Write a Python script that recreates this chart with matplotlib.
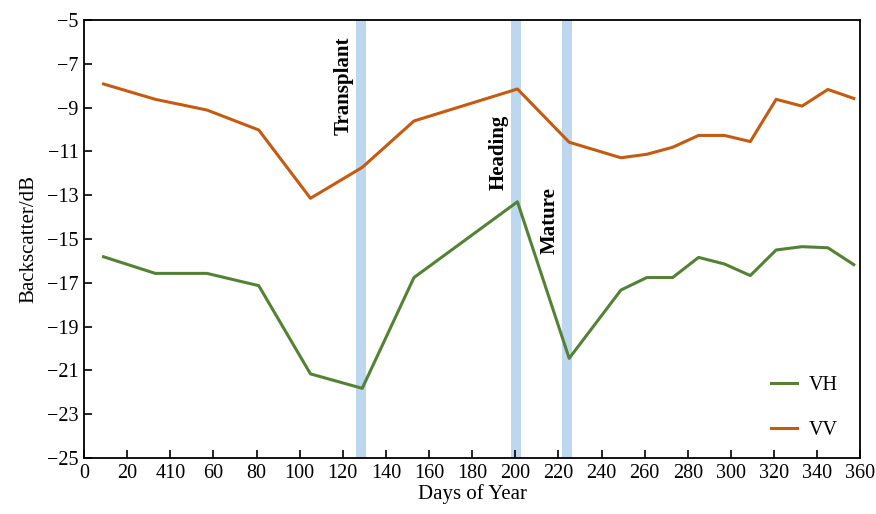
import matplotlib.pyplot as plt

plt.rcParams['font.family'] = ['Liberation Serif', 'DejaVu Serif']

days = [9, 33, 57, 81, 105, 129, 153, 201, 225, 249, 261, 273, 285, 297, 309, 321, 333, 345, 357]
vh = [-15.81, -16.57, -16.57, -17.13, -21.16, -21.82, -16.76, -13.30, -20.45, -17.33,
      -16.76, -16.76, -15.84, -16.14, -16.67, -15.50, -15.35, -15.40, -16.17]
vv = [-7.92, -8.62, -9.11, -10.02, -13.14, -11.73, -9.61, -8.15, -10.58, -11.29,
      -11.13, -10.81, -10.27, -10.27, -10.55, -8.62, -8.93, -8.17, -8.58]

stages = ['Transplant', 'Heading', 'Mature']
stage_days = [128.5, 200.3, 224.0]
label_y = [-10.25, -12.75, -15.7]

xticks = list(range(0, 361, 20))
xtick_labels = ['0', '20', '410', '60', '80', '100', '120', '140', '160', '180',
                '200', '220', '240', '260', '280', '300', '320', '340', '360']
yticks = list(range(-25, -4, 2))

fig = plt.figure(figsize=(8.76, 5.14), dpi=100)
ax = fig.add_axes([0.096, 0.109, 0.886, 0.852])

for d in stage_days:
    ax.axvspan(d - 2.3, d + 2.3, color='#bdd7ee', lw=0, zorder=1)

ax.plot(days, vh, color='#548235', lw=2.2, label='VH', zorder=3)
ax.plot(days, vv, color='#c55a11', lw=2.2, label='VV', zorder=3)

for name, d, y in zip(stages, stage_days, label_y):
    ax.text(d - 8.0, y, name, rotation=90, fontsize=15, fontweight='bold',
            ha='center', va='bottom', zorder=4)

ax.set_xlim(0, 360)
ax.set_ylim(-25, -5)
ax.set_xticks(xticks)
ax.set_xticklabels(xtick_labels)
ax.set_yticks(yticks)
ax.set_yticklabels([str(t).replace('-', '\u2212') for t in yticks])
ax.tick_params(direction='in', length=6, width=1.2, labelsize=14.5, pad=4)
for s in ax.spines.values():
    s.set_linewidth(1.3)

ax.set_xlabel('Days of Year', fontsize=15, labelpad=1)
ax.set_ylabel('Backscatter/dB', fontsize=15, labelpad=6)

ax.legend(loc='lower right', frameon=False, fontsize=14.5, labelspacing=1.3,
          handlelength=1.3, handletextpad=0.6, bbox_to_anchor=(0.995, 0.0))

fig.savefig('out.png', dpi=100)
